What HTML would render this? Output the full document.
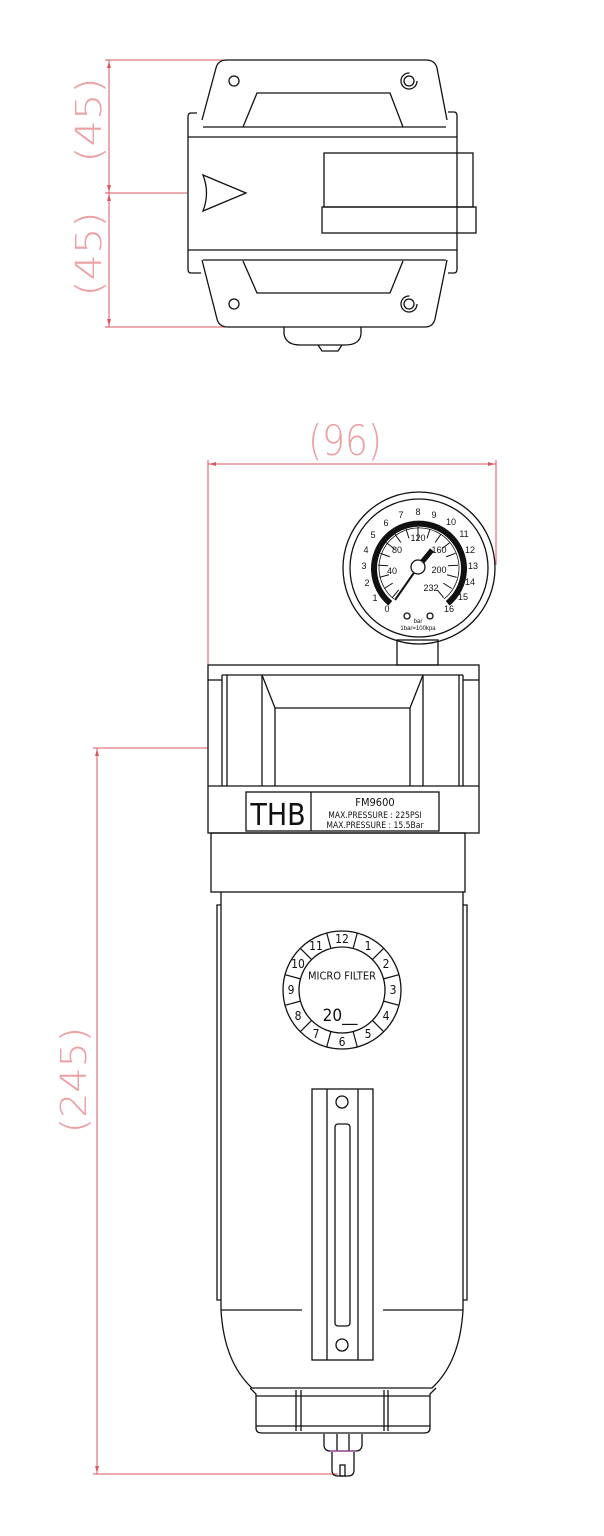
<!DOCTYPE html>
<html><head><meta charset="utf-8"><style>
html,body{margin:0;padding:0;background:#fff;}
svg{display:block;}
.k{fill:none;stroke:#111;stroke-width:1.3;}
.r{fill:none;stroke:#d9585e;stroke-width:1;}
.dt{fill:#eca0a4;font-family:"DejaVu Sans","Liberation Sans",sans-serif;font-size:36px;font-weight:200;}
.g{font-family:"Liberation Sans",sans-serif;font-size:9px;fill:#111;text-anchor:middle;dominant-baseline:central;}
.m{font-family:"DejaVu Sans Condensed","DejaVu Sans",sans-serif;font-size:12px;fill:#111;text-anchor:middle;dominant-baseline:central;}
</style></head><body>
<svg width="604" height="1536" viewBox="0 0 604 1536" xmlns="http://www.w3.org/2000/svg">
<line class="r" x1="105" y1="60" x2="320" y2="60"/>
<line class="r" x1="105" y1="193" x2="187" y2="193"/>
<line class="r" x1="105" y1="327" x2="225" y2="327"/>
<line class="r" x1="109" y1="60" x2="109" y2="327"/>
<polygon points="109,61 107,68 111,68" fill="#d9585e"/>
<polygon points="109,192 107,185 111,185" fill="#d9585e"/>
<polygon points="109,194 107,201 111,201" fill="#d9585e"/>
<polygon points="109,326 107,319 111,319" fill="#d9585e"/>
<text class="dt" transform="translate(101,120) rotate(-90) scale(1.15,1)" text-anchor="middle">(45)</text>
<text class="dt" transform="translate(101,254) rotate(-90) scale(1.15,1)" text-anchor="middle">(45)</text>

<path class="k" d="M202,120 L216,68 Q218,60 227,60 L426,60 Q435,60 437,68 L447,120"/>
<path class="k" d="M202,260 L217,319 Q219,327 228,327 L425,327 Q433,327 435,319 L447,260"/>
<path class="k" d="M197,113 L191,113 Q188,113 188,117 L188,269 Q188,273 191,273 L201,273"/>
<path class="k" d="M448,112 L454,112 Q457,112 457,116 L457,269 Q457,273 454,273 L448,273"/>
<line class="k" x1="203" y1="127" x2="446" y2="127"/>
<line class="k" x1="188" y1="137" x2="457" y2="137"/>
<line class="k" x1="188" y1="250" x2="457" y2="250"/>
<line class="k" x1="203" y1="260" x2="446" y2="260"/>
<path class="k" d="M243,127 L257,93 L390,93 L403,127"/>
<path class="k" d="M243,261 L257,293 L390,293 L403,261"/>
<circle class="k" cx="234" cy="81" r="5"/>
<circle class="k" cx="409" cy="81" r="5"/>
<circle class="k" cx="409" cy="81" r="8" stroke-dasharray="38 12"/>
<circle class="k" cx="234" cy="304" r="5"/>
<circle class="k" cx="409" cy="304" r="5"/>
<circle class="k" cx="409" cy="304" r="8" stroke-dasharray="38 12"/>
<rect class="k" x="324" y="153" width="149" height="54"/>
<rect class="k" x="322" y="207" width="154" height="26"/>
<path class="k" d="M203,175 L246,193 L203,211 Q210,193 203,175 Z"/>
<path class="k" d="M284,327 L284,334 Q286,345 300,345 L345,345 Q360,345 361,334 L361,327"/>
<path class="k" d="M318,345 L322,351 L338,351 L342,345"/>

<line class="r" x1="208" y1="464" x2="496" y2="464"/>
<line class="r" x1="208" y1="460" x2="208" y2="665"/>
<line class="r" x1="496" y1="460" x2="496" y2="565"/>
<polygon points="209,464 216,462 216,466" fill="#d9585e"/>
<polygon points="495,464 488,462 488,466" fill="#d9585e"/>
<text class="dt" transform="translate(345,455) scale(1,1.15)" text-anchor="middle">(96)</text>
<line class="r" x1="93" y1="748" x2="208" y2="748"/>
<line class="r" x1="93" y1="1474" x2="338" y2="1474"/>
<line class="r" x1="97" y1="748" x2="97" y2="1474"/>
<polygon points="97,749 95,756 99,756" fill="#d9585e"/>
<polygon points="97,1473 95,1466 99,1466" fill="#d9585e"/>
<text class="dt" transform="translate(86,1080) rotate(-90) scale(1.1,1)" text-anchor="middle">(245)</text>

<rect class="k" x="397" y="640" width="41" height="25"/>
<circle class="k" cx="419" cy="568" r="76" fill="#fff"/>
<circle class="k" cx="419" cy="568" r="69"/>
<path d="M390.3,603.3 A45,45 0 1 1 447.7,603.3" fill="none" stroke="#111" stroke-width="6"/>
<path d="M393.9,599.0 A40,40 0 1 1 444.1,599.0" fill="none" stroke="#111" stroke-width="0.8"/>
<g stroke="#111" stroke-width="1">
<line x1="418" y1="527" x2="418" y2="537" transform="rotate(-140 418 567)"/>
<line x1="418" y1="527" x2="418" y2="537" transform="rotate(-122.5 418 567)"/>
<line x1="418" y1="527" x2="418" y2="537" transform="rotate(-105 418 567)"/>
<line x1="418" y1="527" x2="418" y2="537" transform="rotate(-87.5 418 567)"/>
<line x1="418" y1="527" x2="418" y2="537" transform="rotate(-70 418 567)"/>
<line x1="418" y1="527" x2="418" y2="537" transform="rotate(-52.5 418 567)"/>
<line x1="418" y1="527" x2="418" y2="537" transform="rotate(-35 418 567)"/>
<line x1="418" y1="527" x2="418" y2="537" transform="rotate(-17.5 418 567)"/>
<line x1="418" y1="527" x2="418" y2="540" transform="rotate(0 418 567)"/>
<line x1="418" y1="527" x2="418" y2="537" transform="rotate(17.5 418 567)"/>
<line x1="418" y1="527" x2="418" y2="537" transform="rotate(35 418 567)"/>
<line x1="418" y1="527" x2="418" y2="537" transform="rotate(52.5 418 567)"/>
<line x1="418" y1="527" x2="418" y2="537" transform="rotate(70 418 567)"/>
<line x1="418" y1="527" x2="418" y2="537" transform="rotate(87.5 418 567)"/>
<line x1="418" y1="527" x2="418" y2="537" transform="rotate(105 418 567)"/>
<line x1="418" y1="527" x2="418" y2="537" transform="rotate(122.5 418 567)"/>
<line x1="418" y1="527" x2="418" y2="537" transform="rotate(140 418 567)"/>
</g>
<g class="g">
<text x="387" y="609">0</text><text x="375" y="598">1</text><text x="367" y="583">2</text>
<text x="364" y="566">3</text><text x="366" y="550">4</text><text x="373" y="535">5</text>
<text x="386" y="523">6</text><text x="401" y="515">7</text><text x="418" y="512">8</text>
<text x="434" y="515">9</text><text x="451" y="522">10</text><text x="464" y="534">11</text>
<text x="470" y="550">12</text><text x="473" y="566">13</text><text x="470" y="582">14</text>
<text x="463" y="597">15</text><text x="449" y="609">16</text>
<text x="392" y="571">40</text><text x="397" y="550">80</text><text x="418" y="538">120</text>
<text x="439" y="550">160</text><text x="439" y="570">200</text><text x="431" y="588">232</text>
<text x="418" y="622" style="font-size:6px">bar</text>
<text x="418" y="629" style="font-size:6px">1bar=100kpa</text>
</g>
<line x1="418" y1="567" x2="395" y2="600" stroke="#111" stroke-width="2"/>
<line x1="418" y1="567" x2="432" y2="550" stroke="#111" stroke-width="5"/>
<circle cx="418" cy="567" r="7" fill="#fff" stroke="#111" stroke-width="1.3"/>
<circle class="k" cx="407" cy="616" r="3"/>
<circle class="k" cx="430" cy="616" r="3"/>

<rect class="k" x="208" y="665" width="271" height="168"/>
<line class="k" x1="208" y1="680" x2="222" y2="680"/>
<line class="k" x1="463" y1="680" x2="479" y2="680"/>
<line class="k" x1="222" y1="675" x2="463" y2="675"/>
<line class="k" x1="222" y1="675" x2="222" y2="786"/>
<line class="k" x1="227" y1="675" x2="227" y2="786"/>
<line class="k" x1="262" y1="675" x2="262" y2="786"/>
<path class="k" d="M262,675 L275,708 L410,708 L423,675"/>
<line class="k" x1="275" y1="708" x2="275" y2="786"/>
<line class="k" x1="410" y1="708" x2="410" y2="786"/>
<line class="k" x1="423" y1="675" x2="423" y2="786"/>
<line class="k" x1="459" y1="675" x2="459" y2="786"/>
<line class="k" x1="463" y1="675" x2="463" y2="786"/>
<line class="k" x1="208" y1="786" x2="479" y2="786"/>
<rect class="k" x="246" y="792" width="193" height="39"/>
<line class="k" x1="311" y1="792" x2="311" y2="831"/>
<text x="278" y="825" text-anchor="middle" style="font-family:'DejaVu Sans Condensed','DejaVu Sans',sans-serif;font-size:30px;fill:#111">THB</text>
<text x="375" y="806" text-anchor="middle" style="font-family:'DejaVu Sans Condensed','DejaVu Sans',sans-serif;font-size:11px;fill:#111">FM9600</text>
<text x="375" y="818" text-anchor="middle" style="font-family:'DejaVu Sans Condensed','DejaVu Sans',sans-serif;font-size:8.5px;fill:#111">MAX.PRESSURE : 225PSI</text>
<text x="375" y="828" text-anchor="middle" style="font-family:'DejaVu Sans Condensed','DejaVu Sans',sans-serif;font-size:8.5px;fill:#111">MAX.PRESSURE : 15.5Bar</text>

<rect class="k" x="211" y="833" width="254" height="59"/>
<path class="k" d="M221,892 L221,1310 Q224,1362 252,1388 L432,1388 Q460,1362 463,1310 L463,892"/>
<path class="k" d="M221,905 L217,905 L217,1300 L221,1300"/>
<path class="k" d="M463,905 L467,905 L467,1300 L463,1300"/>
<line class="k" x1="221" y1="1310" x2="302" y2="1310"/>
<line class="k" x1="383" y1="1310" x2="463" y2="1310"/>
<rect class="k" x="312" y="1089" width="61" height="271"/>
<line class="k" x1="327" y1="1089" x2="327" y2="1360"/>
<line class="k" x1="358" y1="1089" x2="358" y2="1360"/>
<rect class="k" x="335" y="1124" width="15" height="202" rx="3"/>
<circle class="k" cx="342" cy="1102" r="6"/>
<circle class="k" cx="342" cy="1345" r="6"/>
<path class="k" d="M250,1388 L256,1394 L256,1428 Q256,1433 262,1433 L424,1433 Q430,1433 430,1428 L430,1394 L436,1388"/>
<line class="k" x1="256" y1="1396" x2="430" y2="1396"/>
<line class="k" x1="256" y1="1426" x2="430" y2="1426"/>
<line class="k" x1="296" y1="1390" x2="296" y2="1431"/>
<line class="k" x1="301" y1="1390" x2="301" y2="1431"/>
<line class="k" x1="384" y1="1390" x2="384" y2="1431"/>
<line class="k" x1="388" y1="1390" x2="388" y2="1431"/>
<path class="k" d="M324,1434 L324,1446 Q325,1451 330,1451 L356,1451 Q361,1451 362,1446 L362,1434"/>
<line class="k" x1="337" y1="1434" x2="337" y2="1451"/>
<line class="k" x1="349" y1="1434" x2="349" y2="1451"/>
<path d="M330,1451 L356,1451" stroke="#a040a0" stroke-width="1.3"/>
<path class="k" d="M332,1452 L332,1470 Q332,1476 338,1476 L348,1476 Q354,1476 354,1470 L354,1452"/>
<rect class="k" x="340" y="1465" width="5" height="11"/>

<circle class="k" cx="342" cy="990" r="59"/>
<circle class="k" cx="342" cy="990" r="43"/>
<g stroke="#111" stroke-width="1.2">
<line x1="342" y1="931" x2="342" y2="947" transform="rotate(15 342 990)"/>
<line x1="342" y1="931" x2="342" y2="947" transform="rotate(45 342 990)"/>
<line x1="342" y1="931" x2="342" y2="947" transform="rotate(75 342 990)"/>
<line x1="342" y1="931" x2="342" y2="947" transform="rotate(105 342 990)"/>
<line x1="342" y1="931" x2="342" y2="947" transform="rotate(135 342 990)"/>
<line x1="342" y1="931" x2="342" y2="947" transform="rotate(165 342 990)"/>
<line x1="342" y1="931" x2="342" y2="947" transform="rotate(195 342 990)"/>
<line x1="342" y1="931" x2="342" y2="947" transform="rotate(225 342 990)"/>
<line x1="342" y1="931" x2="342" y2="947" transform="rotate(255 342 990)"/>
<line x1="342" y1="931" x2="342" y2="947" transform="rotate(285 342 990)"/>
<line x1="342" y1="931" x2="342" y2="947" transform="rotate(315 342 990)"/>
<line x1="342" y1="931" x2="342" y2="947" transform="rotate(345 342 990)"/>
</g>
<g class="m">
<text x="342" y="939">12</text><text x="368" y="946">1</text><text x="386" y="964">2</text>
<text x="393" y="990">3</text><text x="386" y="1016">4</text><text x="368" y="1034">5</text>
<text x="342" y="1042">6</text><text x="316" y="1034">7</text><text x="298" y="1016">8</text>
<text x="291" y="990">9</text><text x="298" y="964">10</text><text x="316" y="946">11</text>
<text x="342" y="976" style="font-size:11px">MICRO  FILTER</text>
<text x="340" y="1016" style="font-size:17px">20__</text>
</g>
</svg>
</body></html>
